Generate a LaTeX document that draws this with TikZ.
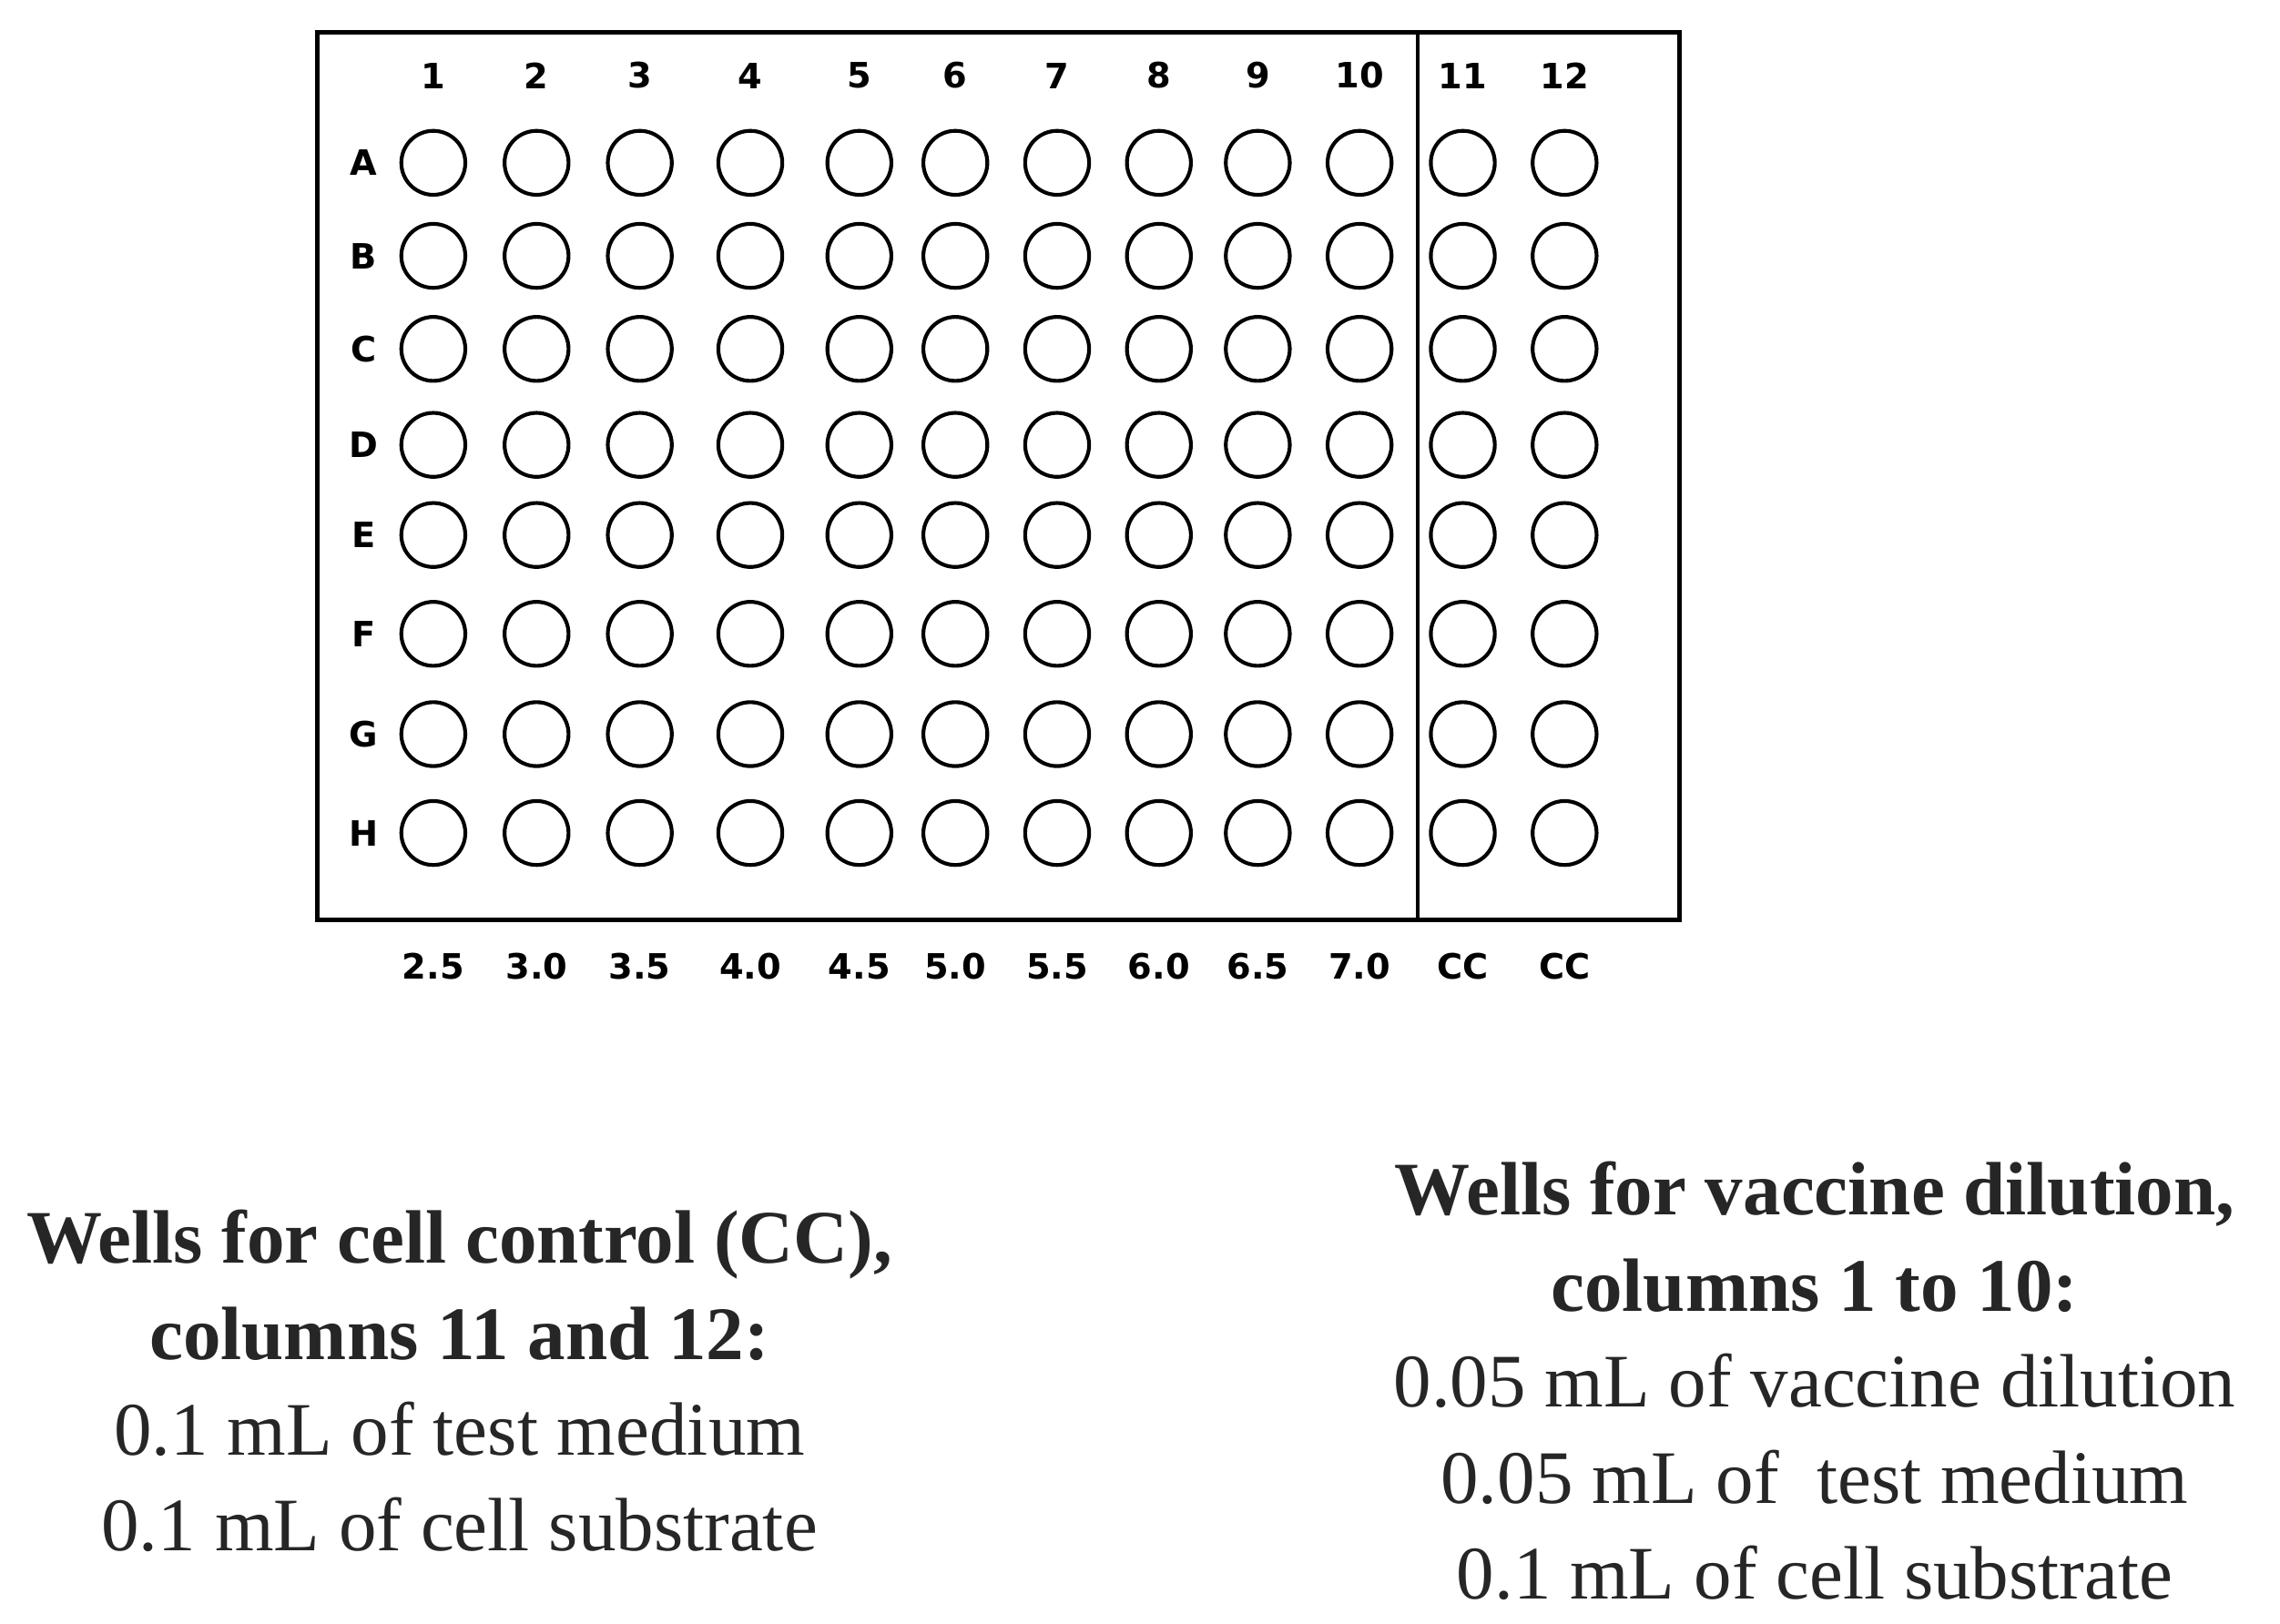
\documentclass[tikz,border=0pt]{standalone}
\usepackage{fontspec}
\setmainfont{Liberation Serif}
\setsansfont{DejaVu Sans}
\begin{document}
\begin{tikzpicture}[x=1pt,y=-1pt,
  well/.style={circle,draw,line width=2.6pt,minimum size=44pt,inner sep=0pt},
  lab/.style={font=\sffamily\bfseries\fontsize{24}{26}\selectfont},
  txt/.style={font=\fontsize{52}{66}\selectfont,align=center,text=black!85}]
\useasboundingbox (0,0) rectangle (1568,1117);
\node[draw,line width=3pt,minimum width=937pt,minimum height=611pt,inner sep=0pt] (plate) at (686.5,327.5) {};
\coordinate (dt) at (975,22); \coordinate (db) at (975,633);
\draw[line width=3pt] (dt) -- (db);
\foreach \c/\x/\b in {1/298/2.5,2/369/3.0,3/440/3.5,4/516/4.0,5/591/4.5,6/657/5.0,7/727/5.5,8/797/6.0,9/865/6.5,10/935/7.0,11/1006/CC,12/1076/CC}{
  \node[lab] (c\c) at (\x,52) {\c};
  \node[lab] (b\c) at (\x,665) {\b};
  \foreach \r/\y in {A/112,B/176,C/240,D/306,E/368,F/436,G/505,H/573}{
    \node[well] (w\r\c) at (\x,\y) {};
  }
}
\foreach \r/\y in {A/112,B/176,C/240,D/306,E/368,F/436,G/505,H/573}{
  \node[lab] (r\r) at (250,\y) {\r};
}
\node[txt] (left) at (316,950) {\textbf{Wells for cell control (CC),}\\\textbf{columns 11 and 12:}\\0.1 mL of test medium\\0.1 mL of cell substrate};
\node[txt] (right) at (1248,950) {\textbf{Wells for vaccine dilution,}\\\textbf{columns 1 to 10:}\\0.05 mL of vaccine dilution\\0.05 mL of\ \ test medium\\0.1 mL of cell substrate};
\end{tikzpicture}
\end{document}
